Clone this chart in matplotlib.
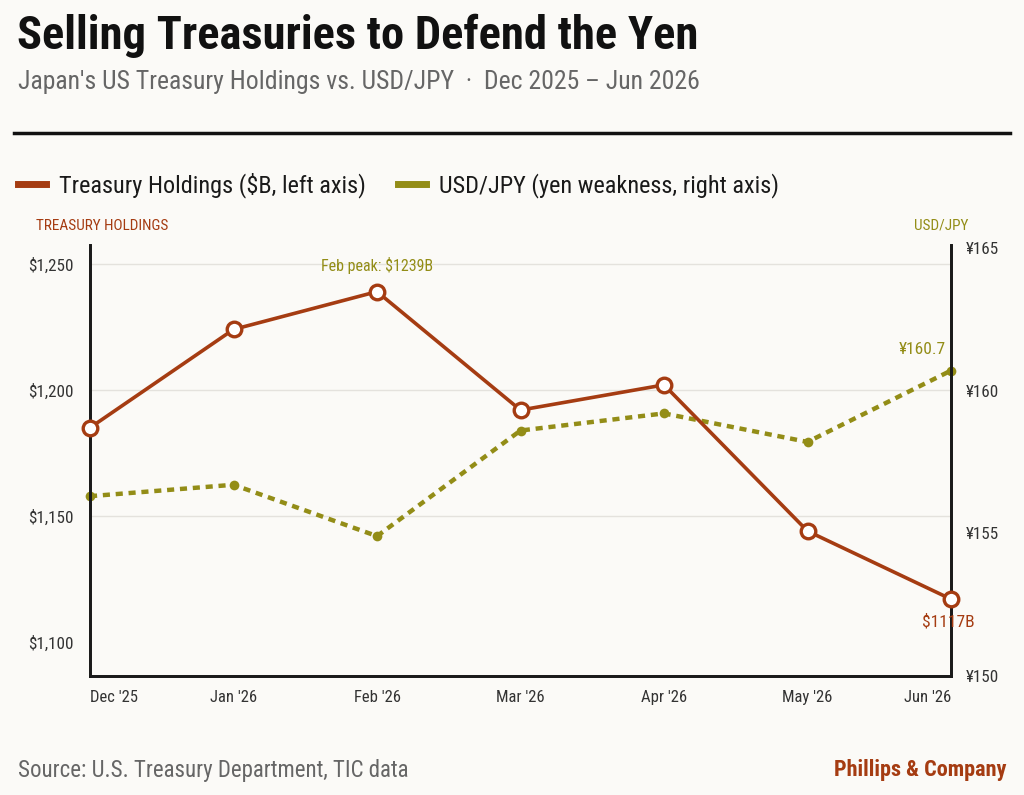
import matplotlib.pyplot as plt
import matplotlib.lines as mlines

# data
months = ["Dec '25", "Jan '26", "Feb '26", "Mar '26", "Apr '26", "May '26", "Jun '26"]
holdings = [1185, 1224, 1239, 1192, 1202, 1144, 1117]
usdjpy = [156.3, 156.7, 154.9, 158.6, 159.2, 158.2, 160.7]
left_ticks = [1100, 1150, 1200, 1250]
right_ticks = [150, 155, 160, 165]

RUST = '#a53c12'
OLIVE = '#938d17'
BG = '#fbfaf7'
FONT = ['Roboto Condensed', 'DejaVu Sans']

plt.rcParams['font.family'] = FONT

fig = plt.figure(figsize=(10.24, 7.95), dpi=100, facecolor=BG)
ax = fig.add_axes([90/1024, 1-676/795, (951-90)/1024, (676-245)/795])
ax.set_facecolor(BG)
ax2 = ax.twinx()

x = list(range(len(months)))

ax2.plot(x, usdjpy, color=OLIVE, lw=3.2, linestyle=(0, (1.6, 1.3)),
         marker='o', markersize=7, markerfacecolor=OLIVE, markeredgewidth=0,
         clip_on=False, zorder=2)
ax.plot(x, holdings, color=RUST, lw=2.6, marker='o', markersize=10.5,
        markerfacecolor='white', markeredgecolor=RUST, markeredgewidth=2.4,
        clip_on=False, zorder=3)
ax.set_zorder(ax2.get_zorder() + 1)
ax.patch.set_visible(False)
ax2.patch.set_visible(True)
ax2.patch.set_facecolor(BG)

ax.set_xlim(0, 6)
ax.set_ylim(1086.5, 1257.5)
ax2.set_ylim(150, 165.1)

ax.set_yticks(left_ticks)
ax.set_yticklabels(['$' + format(v, ',') for v in left_ticks])
ax2.set_yticks(right_ticks)
ax2.set_yticklabels(['¥' + str(v) for v in right_ticks])
ax.set_xticks(x)
ax.set_xticklabels(months)
xl = ax.get_xticklabels()
xl[0].set_ha('left')
xl[-1].set_ha('right')

ax.tick_params(axis='y', length=0, pad=12, labelsize=12.3, labelcolor='#333333')
ax2.tick_params(axis='y', length=0, pad=11, labelsize=12.3, labelcolor='#333333')
ax.tick_params(axis='x', length=0, pad=10, labelsize=12, labelcolor='#333333')

# grid behind, on the background axes
for v in left_ticks[1:]:
    yy = ax2.get_ylim()[0] + (v - 1086.5) / (1257.5 - 1086.5) * (165.1 - 150)
    ax2.axhline(yy, color='#e4e2dd', lw=1, zorder=0)

for a in (ax, ax2):
    a.spines['top'].set_visible(False)
    for s in ('left', 'right', 'bottom'):
        a.spines[s].set_linewidth(2)
        a.spines[s].set_color('#1a1a1a')

# annotations
ax.annotate('Feb peak: $1239B', (2, holdings[2]), xytext=(0, 13), textcoords='offset points',
            ha='center', va='bottom', color=OLIVE, fontsize=11.5)
ax2.annotate('¥160.7', (6, usdjpy[6]), xytext=(-4, 10), textcoords='offset points',
             ha='right', va='bottom', color=OLIVE, fontsize=12.5)
ax.annotate('$1117B', (6, holdings[6]), xytext=(-2, -11), textcoords='offset points',
            ha='center', va='top', color=RUST, fontsize=12.5)

# headings
fig.text(17/1024, 1-36/795, 'Selling Treasuries to Defend the Yen', fontsize=33.5,
         fontweight=900, color='#111111', va='center', ha='left')
fig.text(18/1024, 1-82/795, "Japan's US Treasury Holdings vs. USD/JPY  ·  Dec 2025 – Jun 2026",
         fontsize=18.5, color='#666666', va='center', ha='left')
fig.add_artist(mlines.Line2D([14/1024, 1010/1024], [1-133/795, 1-133/795],
                             color='#111111', lw=2.5))

# legend
h1 = mlines.Line2D([], [], color=RUST, lw=5)
h2 = mlines.Line2D([], [], color=OLIVE, lw=5)
fig.legend([h1, h2], ['Treasury Holdings ($B, left axis)', 'USD/JPY (yen weakness, right axis)'],
           loc='center left', bbox_to_anchor=(18/1024, 1-185/795), ncol=2, frameon=False,
           fontsize=17.5, handlelength=1.15, handletextpad=0.55, columnspacing=1.3,
           borderaxespad=0, borderpad=0, labelcolor='#1a1a1a')

fig.text(36/1024, 1-226/795, 'TREASURY HOLDINGS', fontsize=11, color=RUST, va='center', ha='left')
fig.text(968/1024, 1-226/795, 'USD/JPY', fontsize=11, color=OLIVE, va='center', ha='right')

fig.text(18/1024, 1-770/795, 'Source: U.S. Treasury Department, TIC data', fontsize=16.5,
         color='#666666', va='center', ha='left')
fig.text(1006/1024, 1-770/795, 'Phillips & Company', fontsize=16, fontweight='bold',
         color=RUST, va='center', ha='right')

fig.savefig('out.png', dpi=100, facecolor=BG)
